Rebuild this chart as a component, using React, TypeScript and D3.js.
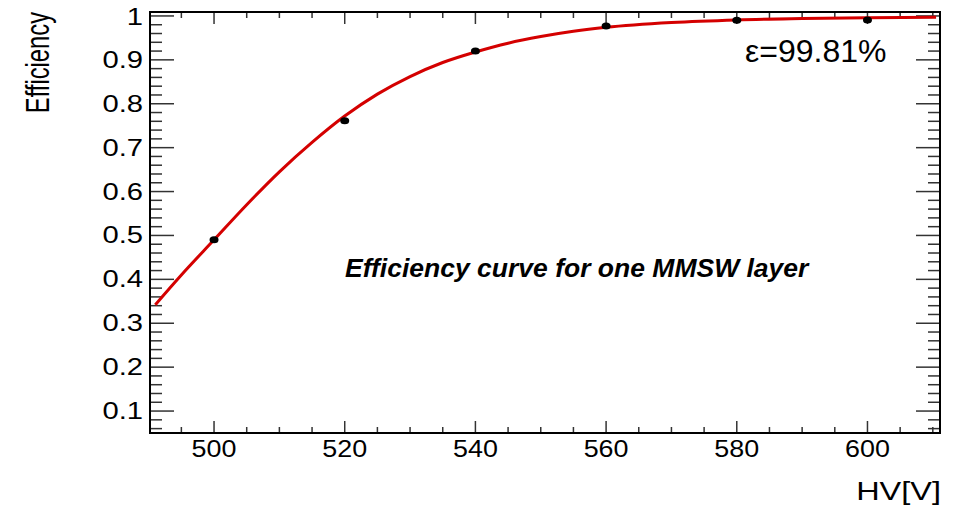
import React from "react";
import * as d3 from "d3";

// measured points (HV in volts, efficiency)
const hvPoints = [500, 520, 540, 560, 580, 600];
const effPoints = [0.49, 0.761, 0.92, 0.977, 0.99, 0.991];

// fitted curve
const curveHV = [491, 495, 500, 505, 510, 515, 520, 525, 530, 535, 540, 545, 550, 555, 560, 570, 580, 590, 600, 610.5];
const curveEff = [0.342, 0.41, 0.49, 0.57, 0.645, 0.712, 0.772, 0.822, 0.862, 0.894, 0.918, 0.938, 0.953, 0.965, 0.974, 0.985, 0.991, 0.994, 0.996, 0.997];

const xTickLabels = [500, 520, 540, 560, 580, 600];
const yTickLabels = ["0.1", "0.2", "0.3", "0.4", "0.5", "0.6", "0.7", "0.8", "0.9", "1"];

const labelText = "Efficiency curve for one MMSW layer";
const effText = "ε=99.81%";

const font = "'Liberation Sans', Arial, Helvetica, sans-serif";

const App = () => {
    const layout = { width: 959, height: 508, left: 150, right: 940, top: 12, bottom: 433 };

    const xScale = d3.scaleLinear().domain([490.2, 611.1]).range([layout.left, layout.right]);
    const yScale = d3.scaleLinear().domain([0.05, 1.009]).range([layout.bottom, layout.top]);

    const lineGenerator = d3
        .line<number>()
        .x(d => xScale(curveHV[d]))
        .y(d => yScale(curveEff[d]))
        .curve(d3.curveMonotoneX);
    const curvePath = lineGenerator(d3.range(curveHV.length)) || "";

    const xMinor = d3.range(495, 611, 5).filter(v => v % 20 !== 0);
    const yMinor = d3.range(6, 101, 2).map(v => v / 100).filter(v => Math.round(v * 100) % 10 !== 0);

    const tick = "#333";

    return (
        <svg
            width={layout.width}
            height={layout.height}
            style={{ position: "absolute", left: 0, top: 0, background: "#fff" }}
        >
            {/* x ticks, bottom and top */}
            {xTickLabels.map(v => (
                <g key={`xm${v}`} stroke={tick} strokeWidth={1.5}>
                    <line x1={xScale(v)} x2={xScale(v)} y1={layout.bottom} y2={layout.bottom - 12} />
                    <line x1={xScale(v)} x2={xScale(v)} y1={layout.top} y2={layout.top + 12} />
                </g>
            ))}
            {xMinor.map(v => (
                <g key={`xn${v}`} stroke={tick} strokeWidth={1.5}>
                    <line x1={xScale(v)} x2={xScale(v)} y1={layout.bottom} y2={layout.bottom - 6} />
                    <line x1={xScale(v)} x2={xScale(v)} y1={layout.top} y2={layout.top + 6} />
                </g>
            ))}
            {/* y ticks, left and right */}
            {yTickLabels.map(v => (
                <g key={`ym${v}`} stroke={tick} strokeWidth={1.5}>
                    <line x1={layout.left} x2={layout.left + 24} y1={yScale(+v)} y2={yScale(+v)} />
                    <line x1={layout.right} x2={layout.right - 24} y1={yScale(+v)} y2={yScale(+v)} />
                </g>
            ))}
            {yMinor.map(v => (
                <g key={`yn${v}`} stroke={tick} strokeWidth={1.5}>
                    <line x1={layout.left} x2={layout.left + 12} y1={yScale(v)} y2={yScale(v)} />
                    <line x1={layout.right} x2={layout.right - 12} y1={yScale(v)} y2={yScale(v)} />
                </g>
            ))}
            <rect
                x={layout.left}
                y={layout.top}
                width={layout.right - layout.left}
                height={layout.bottom - layout.top}
                fill="none"
                stroke="#000"
                strokeWidth={2}
            />

            {/* tick labels */}
            {xTickLabels.map(v => (
                <text
                    key={`xl${v}`}
                    transform={`translate(${xScale(v)},${457}) scale(1.12,1)`}
                    textAnchor="middle"
                    fontFamily={font}
                    fontSize={24}
                >
                    {v}
                </text>
            ))}
            {yTickLabels.map(v => (
                <text
                    key={`yl${v}`}
                    transform={`translate(143,${Math.max(yScale(+v), 17) + 8}) scale(1.27,1)`}
                    textAnchor="end"
                    fontFamily={font}
                    fontSize={23}
                >
                    {v}
                </text>
            ))}

            {/* axis titles */}
            <text transform="translate(941,500) scale(1.3,1)" textAnchor="end" fontFamily={font} fontSize={25}>
                HV[V]
            </text>
            <text transform="translate(49,12) rotate(-90) scale(0.95,1.3)" textAnchor="end" fontFamily={font} fontSize={25}>
                Efficiency
            </text>

            {/* fit and points */}
            <path d={curvePath} fill="none" stroke="#d40000" strokeWidth={3} />
            {hvPoints.map((hv, i) => (
                <ellipse key={`p${hv}`} cx={xScale(hv)} cy={yScale(effPoints[i])} rx={4.5} ry={3.5} fill="#000" />
            ))}

            <text x={345} y={277} fontFamily={font} fontSize={26.5} fontWeight="bold" fontStyle="italic">
                {labelText}
            </text>
            <text x={745} y={62} fontFamily={font} fontSize={32}>
                {effText}
            </text>
        </svg>
    );
};

export default App;
